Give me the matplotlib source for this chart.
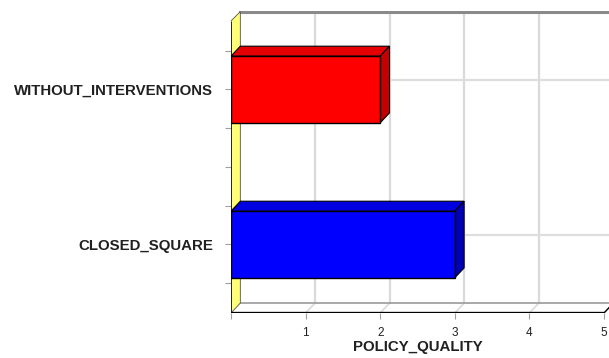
import numpy as np
import matplotlib
matplotlib.use("Agg")
import matplotlib.pyplot as plt
from matplotlib.patches import Polygon

plt.rcParams['font.family'] = ['Liberation Sans', 'DejaVu Sans']

# data
categories = ["CLOSED_SQUARE", "WITHOUT_INTERVENTIONS"]
values = [3, 2]
bar_colors = ["#0000ff", "#ff0000"]
top_colors = ["#0000e0", "#e40000"]
side_colors = ["#0000b8", "#c40000"]
x_ticks = [0, 1, 2, 3, 4, 5]
x_tick_labels = ["", "1", "2", "3", "4", "5"]

# pseudo-3d geometry (data units)
dx, dy = 0.125, 0.064
bar_h = 0.43
ybot, ytop = -0.442, 1.506
xmax = 5.067

fig = plt.figure(figsize=(6.09, 3.58), dpi=100)
ax = fig.add_axes([231 / 609, 45 / 358, 378 / 609, 302 / 358])
ax.set_xlim(0, xmax)
ax.set_ylim(ybot, ytop)
for s in ax.spines.values():
    s.set_visible(False)

# back wall grid
for k in x_ticks[1:]:
    ax.plot([k + dx, k + dx], [ybot + dy, ytop], color="#dadada", lw=1.6, zorder=1)
    ax.plot([k, k + dx], [ybot, ybot + dy], color="#dadada", lw=1.2, zorder=1)
for i in range(len(categories)):
    ax.plot([dx, xmax + 1], [i + dy, i + dy], color="#dedede", lw=1.6, zorder=1)
ax.plot([dx, xmax + 1], [ytop - 0.004, ytop - 0.004], color="#8a8a8a", lw=2.2, zorder=2)
ax.plot([dx, 5 + dx], [ybot + dy, ybot + dy], color="#9a9a9a", lw=1.2, zorder=2)

# left wall
wall = Polygon([(0, ybot), (dx, ybot + dy), (dx, ytop - 0.004), (0, ytop - dy)],
               closed=True, facecolor="#ffff78", edgecolor="none", zorder=3)
ax.add_patch(wall)
ax.plot([0, dx, dx, 0], [ybot, ybot + dy, ytop - 0.004, ytop - dy],
        color="#505050", lw=0.6, zorder=3)

# front axis lines
ax.plot([-0.012, -0.012], [ybot, ytop - dy], color="black", lw=1.9, zorder=6, solid_capstyle="butt")
ax.plot([-0.02, 5], [ybot, ybot], color="black", lw=2.4, zorder=6, solid_capstyle="butt")
ax.plot([5, 5 + dx], [ybot, ybot + dy], color="black", lw=1.0, zorder=6)

# bars
y_pos = np.arange(len(categories))
ax.barh(y_pos, values, height=bar_h, color=bar_colors, edgecolor="black", lw=1.0, zorder=5)
for y, v, tc, sc in zip(y_pos, values, top_colors, side_colors):
    t = y + bar_h / 2
    b = y - bar_h / 2
    ax.add_patch(Polygon([(0, t), (dx, t + dy), (v + dx, t + dy), (v, t)],
                         closed=True, facecolor=tc, edgecolor="black", lw=0.8, zorder=4))
    ax.add_patch(Polygon([(v, b), (v, t), (v + dx, t + dy), (v + dx, b + dy)],
                         closed=True, facecolor=sc, edgecolor="black", lw=0.8, zorder=4))

# ticks
ax.set_xticks(x_ticks)
ax.set_xticklabels(x_tick_labels, fontsize=8.5, color="#202020")
y_ticks = [-0.25, 0, 0.25, 0.5, 0.75, 1.0, 1.25]
ax.set_yticks(y_ticks)
ax.set_yticklabels(["", categories[0], "", "", "", categories[1], ""],
                   fontsize=10.8, fontweight="bold", color="#202020")
ax.tick_params(axis="x", length=4, color="#a0a0a0", pad=6)
ax.tick_params(axis="y", length=4, color="#a0a0a0", pad=9)

ax.set_xlabel("POLICY_QUALITY", fontsize=10.8, fontweight="bold", color="#202020")
ax.xaxis.set_label_coords(0.495, -0.088)

fig.savefig("out.png", dpi=100)
